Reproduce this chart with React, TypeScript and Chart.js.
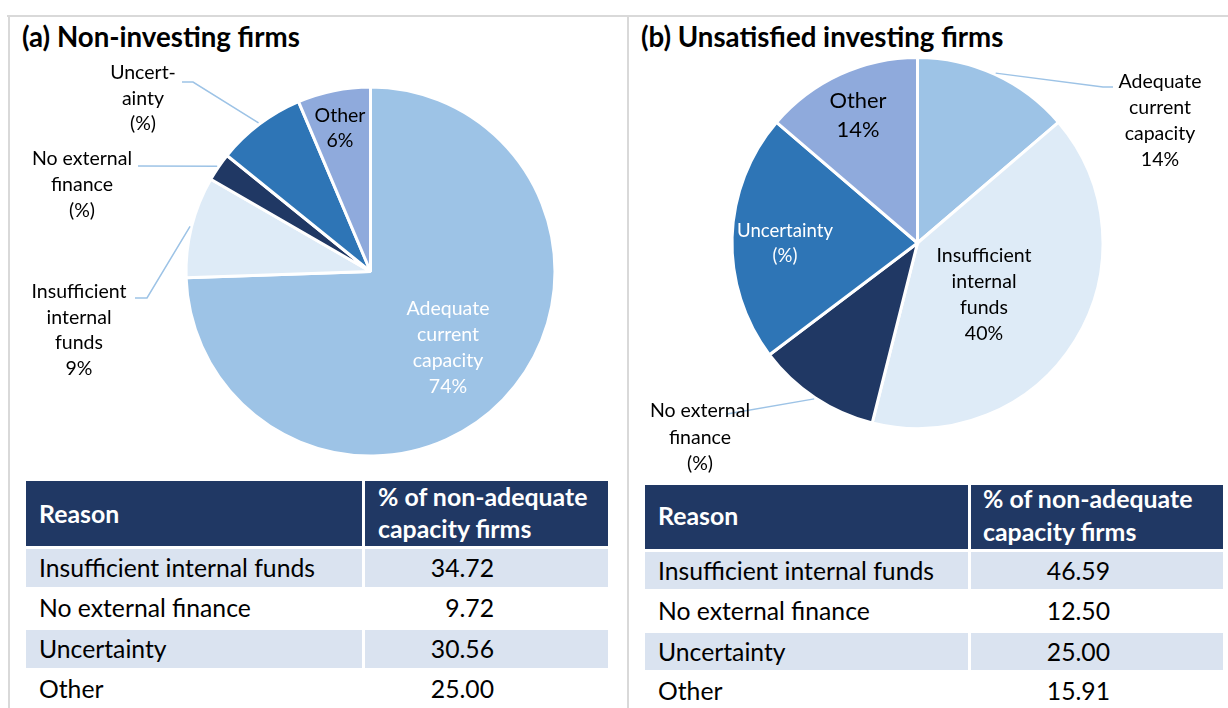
import React, { useEffect, useMemo, useRef } from "react";
import { Chart, registerables } from "chart.js";

Chart.register(...registerables);

// ---------------- data ----------------
const CATEGORIES = [
  "Adequate current capacity",
  "Insufficient internal funds",
  "No external finance",
  "Uncertainty",
  "Other",
];
// pie shares (% of all firms)
const PIE_A = [74.47, 8.87, 2.48, 7.8, 6.38];
const PIE_B = [13.73, 40.2, 10.78, 21.57, 13.73];

// table rows (% of non-adequate capacity firms)
const REASONS = ["Insufficient internal funds", "No external finance", "Uncertainty", "Other"];
const TABLE_A = [34.72, 9.72, 30.56, 25.0];
const TABLE_B = [46.59, 12.5, 25.0, 15.91];

const TITLE_A = "(a) Non-investing firms";
const TITLE_B = "(b) Unsatisfied investing firms";
const HEAD_REASON = "Reason";
const HEAD_SHARE = ["% of non-adequate", "capacity firms"];

// ---------------- style ----------------
const FAMILY = "Lato, 'Open Sans', sans-serif";
const SLICE_COLORS = ["#9DC3E6", "#DEEBF7", "#203864", "#2E75B6", "#8FAADC"];
const LEADER = "#9DC3E6";
const FRAME = "#D9D9D9";
const HEAD_FILL = "#203864";
const ROW_FILL = "#DAE3F0";

let _mctx: CanvasRenderingContext2D | null = null;
function mctx(): CanvasRenderingContext2D {
  if (!_mctx) _mctx = document.createElement("canvas").getContext("2d");
  return _mctx as CanvasRenderingContext2D;
}
function fit(text: string, target: number, weight: number): number {
  const c = mctx();
  c.font = `${weight} 100px ${FAMILY}`;
  return (100 * target) / c.measureText(text).width;
}
function vmetrics(size: number, weight: number) {
  const c = mctx();
  c.font = `${weight} ${size}px ${FAMILY}`;
  const m = c.measureText("Hg");
  return { asc: m.fontBoundingBoxAscent, desc: m.fontBoundingBoxDescent };
}

type TxtProps = {
  x: number;
  y: number;
  text: string;
  size: number;
  weight?: number;
  color?: string;
  align?: "left" | "center" | "right";
};
function Txt({ x, y, text, size, weight = 400, color = "#000", align = "left" }: TxtProps) {
  const { asc, desc } = vmetrics(size, weight);
  const tx = align === "center" ? "translateX(-50%)" : align === "right" ? "translateX(-100%)" : "none";
  return (
    <div
      style={{
        position: "absolute",
        left: x,
        top: y - asc,
        fontFamily: FAMILY,
        fontSize: size,
        fontWeight: weight,
        lineHeight: `${asc + desc}px`,
        color,
        whiteSpace: "nowrap",
        transform: tx,
      }}
    >
      {text}
    </div>
  );
}

type LabelSpec = {
  lines: string[];
  x: number;
  y: number;
  lh: number;
  size: number;
  color: string;
  lead?: [number, number][];
};

type PieProps = {
  values: number[];
  left: number;
  top: number;
  width: number;
  height: number;
  cx: number;
  cy: number;
  radius: number;
  labels: LabelSpec[];
};

function PieChart({ values, left, top, width, height, cx, cy, radius, labels }: PieProps) {
  const ref = useRef<HTMLCanvasElement>(null);
  useEffect(() => {
    if (!ref.current) return;
    const ccx = cx - left;
    const ccy = cy - top;
    const half = Math.min(ccx, width - ccx, ccy, height - ccy) - 1;
    const labelPlugin = {
      id: "sliceLabels",
      afterDatasetsDraw(chart: any) {
        const ctx: CanvasRenderingContext2D = chart.ctx;
        const meta = chart.getDatasetMeta(0);
        ctx.save();
        labels.forEach((lb, i) => {
          const arc: any = meta.data[i];
          const p = arc.getProps(["x", "y", "startAngle", "endAngle", "outerRadius"], true);
          if (lb.lead) {
            const mid = (p.startAngle + p.endAngle) / 2;
            const ex = p.x + Math.cos(mid) * (p.outerRadius + 1.5);
            const ey = p.y + Math.sin(mid) * (p.outerRadius + 1.5);
            ctx.beginPath();
            ctx.strokeStyle = LEADER;
            ctx.lineWidth = 1.5;
            lb.lead.forEach(([px, py], k) => {
              if (k === 0) ctx.moveTo(px - left, py - top);
              else ctx.lineTo(px - left, py - top);
            });
            ctx.lineTo(ex, ey);
            ctx.stroke();
          }
          ctx.font = `400 ${lb.size}px ${FAMILY}`;
          ctx.fillStyle = lb.color;
          ctx.textAlign = "center";
          ctx.textBaseline = "alphabetic";
          lb.lines.forEach((t, k) => ctx.fillText(t, lb.x - left, lb.y - top + k * lb.lh));
        });
        ctx.restore();
      },
    };
    const chart = new Chart(ref.current, {
      type: "pie",
      data: {
        labels: CATEGORIES,
        datasets: [
          {
            data: values,
            backgroundColor: SLICE_COLORS,
            borderColor: "#FFFFFF",
            borderWidth: 3,
            radius: radius,
          } as any,
        ],
      },
      options: {
        animation: false,
        responsive: false,
        events: [],
        layout: {
          padding: {
            left: ccx - half,
            right: width - ccx - half,
            top: ccy - half,
            bottom: height - ccy - half,
          },
        },
        plugins: { legend: { display: false }, tooltip: { enabled: false } },
      } as any,
      plugins: [labelPlugin as any],
    });
    return () => chart.destroy();
  }, [values, left, top, width, height, cx, cy, radius, labels]);
  return (
    <canvas
      ref={ref}
      width={width}
      height={height}
      style={{ position: "absolute", left, top, width, height }}
    />
  );
}

type TableGeo = {
  c1: [number, number];
  c2: [number, number];
  head: [number, number];
  rowTops: number[];
  fillH: number;
  textX: number;
  headX: number;
  valRight: number;
  reasonBase: number;
  headBases: number[];
  rowBases: number[];
};

function DataTable({ geo, values, bodySize, headSize }: { geo: TableGeo; values: number[]; bodySize: number; headSize: number }) {
  const rect = (x0: number, x1: number, y0: number, y1: number, fill: string, key: string) => (
    <div key={key} style={{ position: "absolute", left: x0, top: y0, width: x1 - x0, height: y1 - y0, background: fill }} />
  );
  return (
    <>
      {rect(geo.c1[0], geo.c1[1], geo.head[0], geo.head[1], HEAD_FILL, "h1")}
      {rect(geo.c2[0], geo.c2[1], geo.head[0], geo.head[1], HEAD_FILL, "h2")}
      {geo.rowTops.map((t, i) =>
        i % 2 === 0 ? (
          <React.Fragment key={"r" + i}>
            {rect(geo.c1[0], geo.c1[1], t, t + geo.fillH, ROW_FILL, "a" + i)}
            {rect(geo.c2[0], geo.c2[1], t, t + geo.fillH, ROW_FILL, "b" + i)}
          </React.Fragment>
        ) : null
      )}
      <Txt x={geo.textX} y={geo.reasonBase} text={HEAD_REASON} size={headSize} weight={700} color="#FFFFFF" />
      {HEAD_SHARE.map((t, k) => (
        <Txt key={"hs" + k} x={geo.headX} y={geo.headBases[k]} text={t} size={headSize} weight={700} color="#FFFFFF" />
      ))}
      {REASONS.map((r, i) => (
        <React.Fragment key={"t" + i}>
          <Txt x={geo.textX} y={geo.rowBases[i]} text={r} size={bodySize} />
          <Txt x={geo.valRight} y={geo.rowBases[i]} text={values[i].toFixed(2)} size={bodySize} align="right" />
        </React.Fragment>
      ))}
    </>
  );
}

const GEO_A: TableGeo = {
  c1: [26, 362],
  c2: [365, 608],
  head: [481, 546],
  rowTops: [549, 589.5, 630, 670.5],
  fillH: 37.5,
  textX: 39,
  headX: 378,
  valRight: 494,
  reasonBase: 523,
  headBases: [506, 538],
  rowBases: [577, 617, 657.5, 698],
};
const GEO_B: TableGeo = {
  c1: [645, 968],
  c2: [971, 1223],
  head: [485, 549],
  rowTops: [552, 592.5, 633, 673.5],
  fillH: 37,
  textX: 658,
  headX: 983,
  valRight: 1110,
  reasonBase: 525,
  headBases: [507.5, 541],
  rowBases: [580, 620, 660.5, 700],
};

const pct = (v: number) => `${Math.round(v)}%`;

export default function App() {
  const sz = useMemo(() => {
    return {
      title: fit(TITLE_A, 278, 700),
      head: fit(HEAD_SHARE[0], 210, 700),
      body: fit(REASONS[0], 276, 400),
      label: fit("Insufficient", 95, 400),
      otherB: fit("Other", 57, 400),
      uncB: fit("Uncertainty", 96, 400),
    };
  }, []);

  const labelsA: LabelSpec[] = useMemo(
    () => [
      { lines: ["Adequate", "current", "capacity", pct(PIE_A[0])], x: 448, y: 315, lh: 26, size: sz.label, color: "#FFFFFF" },
      { lines: ["Insufficient", "internal", "funds", pct(PIE_A[1])], x: 79, y: 298, lh: 25.7, size: sz.label, color: "#000000", lead: [[135, 298], [147, 298]] },
      { lines: ["No external", "finance", "(%)"], x: 82, y: 165, lh: 26, size: sz.label, color: "#000000", lead: [[138, 166]] },
      { lines: ["Uncert-", "ainty", "(%)"], x: 143, y: 79, lh: 25.5, size: sz.label, color: "#000000", lead: [[182, 82], [193, 82]] },
      { lines: ["Other", pct(PIE_A[4])], x: 340, y: 122, lh: 25, size: sz.label, color: "#000000" },
    ],
    [sz]
  );
  const labelsB: LabelSpec[] = useMemo(
    () => [
      { lines: ["Adequate", "current", "capacity", pct(PIE_B[0])], x: 1160, y: 88, lh: 26, size: sz.label, color: "#000000", lead: [[1113, 87], [1103, 87]] },
      { lines: ["Insufficient", "internal", "funds", pct(PIE_B[1])], x: 984, y: 262, lh: 26, size: sz.label, color: "#000000" },
      { lines: ["No external", "finance", "(%)"], x: 700, y: 417, lh: 26.5, size: sz.label, color: "#000000", lead: [[727, 414]] },
      { lines: ["Uncertainty", "(%)"], x: 785, y: 237, lh: 25, size: sz.uncB, color: "#FFFFFF" },
      { lines: ["Other", pct(PIE_B[4])], x: 858, y: 108, lh: 29, size: sz.otherB, color: "#000000" },
    ],
    [sz]
  );

  return (
    <div
      style={{
        position: "absolute",
        left: 0,
        top: 0,
        width: 1228,
        height: 708,
        overflow: "hidden",
        background: "#FFFFFF",
      }}
    >
      {/* frame */}
      <div style={{ position: "absolute", left: 7, top: 15, width: 1221, height: 2, background: FRAME }} />
      <div style={{ position: "absolute", left: 8, top: 15, width: 2, height: 693, background: FRAME }} />
      <div style={{ position: "absolute", left: 627, top: 15, width: 2, height: 693, background: FRAME }} />

      <Txt x={22} y={46.5} text={TITLE_A} size={sz.title} weight={700} />
      <Txt x={641} y={46.5} text={TITLE_B} size={sz.title} weight={700} />

      <PieChart values={PIE_A} left={10} top={17} width={616} height={458} cx={370.5} cy={271.5} radius={184.5} labels={labelsA} />
      <PieChart values={PIE_B} left={630} top={17} width={598} height={466} cx={917.5} cy={243} radius={185.5} labels={labelsB} />

      <DataTable geo={GEO_A} values={TABLE_A} bodySize={sz.body} headSize={sz.head} />
      <DataTable geo={GEO_B} values={TABLE_B} bodySize={sz.body} headSize={sz.head} />
    </div>
  );
}
